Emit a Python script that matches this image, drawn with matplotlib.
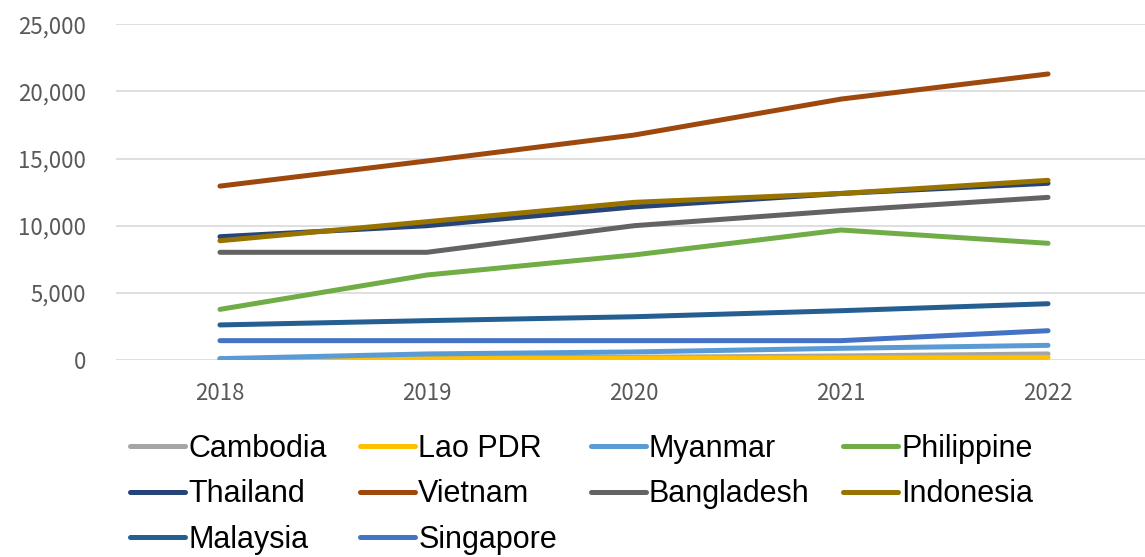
import numpy as np
import matplotlib
matplotlib.use("Agg")
import matplotlib.pyplot as plt
from matplotlib.ticker import FuncFormatter

years = ["2018", "2019", "2020", "2021", "2022"]

# values
cambodia   = [100, 150, 200, 300, 450]
lao_pdr    = [50, 100, 120, 150, 180]
myanmar    = [100, 450, 600, 870, 1090]
philippine = [3770, 6330, 7820, 9680, 8690]
thailand   = [9180, 10000, 11400, 12400, 13160]
vietnam    = [12950, 14820, 16750, 19430, 21300]
bangladesh = [8020, 8020, 10000, 11120, 12110]
indonesia  = [8880, 10300, 11740, 12400, 13380]
malaysia   = [2610, 2930, 3220, 3670, 4190]
singapore  = [1440, 1440, 1440, 1440, 2180]

series = [
    ("Cambodia", cambodia, "#A5A5A5"),
    ("Lao PDR", lao_pdr, "#FFC000"),
    ("Myanmar", myanmar, "#5B9BD5"),
    ("Philippine", philippine, "#70AD47"),
    ("Thailand", thailand, "#264478"),
    ("Vietnam", vietnam, "#9E480E"),
    ("Bangladesh", bangladesh, "#636363"),
    ("Indonesia", indonesia, "#997300"),
    ("Malaysia", malaysia, "#255E91"),
    ("Singapore", singapore, "#4472C4"),
]

tick_font = ["Noto Sans CJK JP", "DejaVu Sans"]
legend_font = ["Liberation Sans Narrow", "Liberation Sans", "DejaVu Sans"]

fig = plt.figure(figsize=(11.45, 5.57), dpi=100)
ax = fig.add_axes([0.1017, 0.3537, 0.904, 0.6027])

x = np.arange(len(years))
lines = {}
for name, vals, col in series:
    lines[name], = ax.plot(x, vals, color=col, lw=3.6, solid_capstyle="round", label=name)

ax.set_xlim(-0.5, len(years) - 0.5)
ax.set_ylim(0, 25000)
ax.set_yticks(np.arange(0, 25001, 5000))
ax.yaxis.set_major_formatter(FuncFormatter(lambda v, p: f"{int(v):,}"))
ax.set_xticks(x)
ax.set_xticklabels(years)

ax.grid(axis="y", color="#D9D9D9", lw=1.2)
ax.set_axisbelow(True)
for s in ax.spines.values():
    s.set_visible(False)
ax.tick_params(axis="both", length=0, colors="#595959", labelsize=16)
ax.tick_params(axis="y", pad=22)
ax.tick_params(axis="x", pad=16)
for lbl in ax.get_xticklabels() + ax.get_yticklabels():
    lbl.set_family(tick_font)

# legend is filled column by column, so order names to read row-wise
ncol = 4
names = [s[0] for s in series]
order = []
for c in range(ncol):
    order += names[c::ncol]
leg = fig.legend([lines[n] for n in order], order,
                 loc="upper left", bbox_to_anchor=(130 / 1145, 1 - 434 / 557),
                 ncol=ncol, frameon=False, borderpad=0, borderaxespad=0,
                 handlelength=1.8, handletextpad=0.1, columnspacing=1.1,
                 labelspacing=0.5, prop={"family": legend_font, "size": 22})

fig.savefig("out.png", dpi=100)
